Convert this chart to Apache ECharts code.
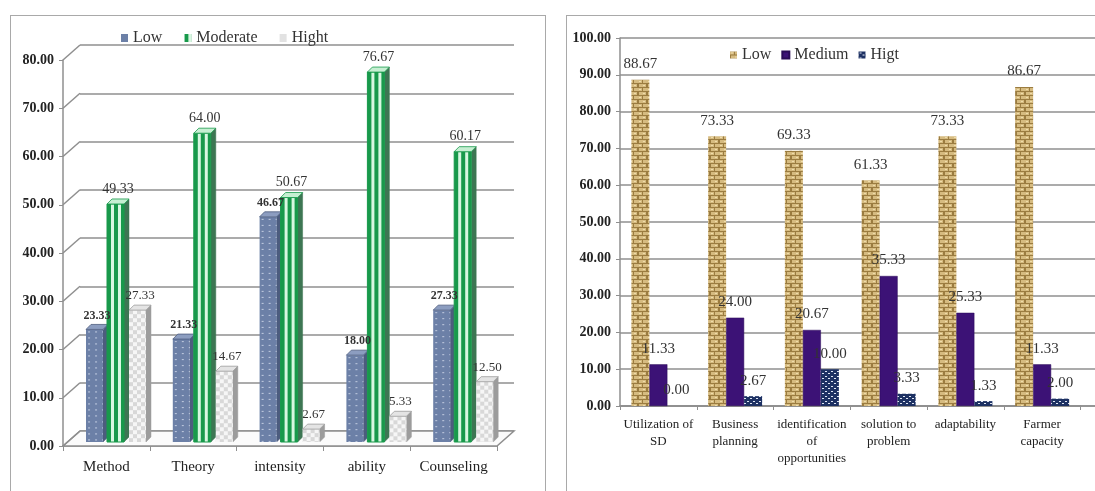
<!DOCTYPE html>
<html>
<head>
<meta charset="utf-8">
<script src="https://cdn.jsdelivr.net/npm/echarts@6/dist/echarts.min.js"></script>
<style>
  html, body { margin: 0; padding: 0; width: 1095px; height: 491px; overflow: hidden; background: #fff; }
  #left  { position: absolute; left: 0;     top: 0; width: 548px; height: 491px; }
  #right { position: absolute; left: 548px; top: 0; width: 547px; height: 491px; }
  .frame { position: absolute; border: 1.5px solid #a9a9a9; pointer-events: none; }
</style>
</head>
<body>
<div id="left"></div>
<div id="right"></div>
<div class="frame" style="left:10px;top:15px;width:534px;height:520px;"></div>
<div class="frame" style="left:566px;top:15px;width:600px;height:520px;"></div>
<script>
// ---- Skill levels (3D clustered columns) ----
const skillCategories = ['Method', 'Theory', 'intensity', 'ability', 'Counseling'];
const skillLow      = [23.33, 21.33, 46.67, 18.00, 27.33];
const skillModerate = [49.33, 64.00, 50.67, 76.67, 60.17];
const skillHight    = [27.33, 14.67, 2.67, 5.33, 12.50];
const skillTicks    = [0, 10, 20, 30, 40, 50, 60, 70, 80];

// ---- Capacity levels (flat clustered columns) ----
const capacityCategories = ['Utilization of\nSD', 'Business\nplanning', 'identification\nof\nopportunities',
                            'solution to\nproblem', 'adaptability', 'Farmer\ncapacity'];
const capacityLow    = [88.67, 73.33, 69.33, 61.33, 73.33, 86.67];
const capacityMedium = [11.33, 24.00, 20.67, 35.33, 25.33, 11.33];
const capacityHigt   = [0.00, 2.67, 10.00, 3.33, 1.33, 2.00];

const SERIF = '"Liberation Serif", "Times New Roman", serif';

function tile(w, h, draw) {
  const c = document.createElement('canvas');
  c.width = w; c.height = h;
  draw(c.getContext('2d'));
  return c;
}

// fills
const dotTile = tile(7, 6, g => {
  g.fillStyle = '#6c80a7'; g.fillRect(0, 0, 7, 6);
  g.fillStyle = '#c3cde2'; g.fillRect(2, 2, 2, 1);
});
const checkTile = tile(8, 8, g => {
  g.fillStyle = '#f6f6f6'; g.fillRect(0, 0, 8, 8);
  g.fillStyle = '#d8d8d8'; g.fillRect(0, 0, 4, 4); g.fillRect(4, 4, 4, 4);
});
const stripeTile = tile(7, 4, g => {
  g.fillStyle = '#d8f7e1'; g.fillRect(0, 0, 7, 4);
  g.fillStyle = '#18994b'; g.fillRect(0, 0, 4, 4);
});
const brickTile = tile(9, 8, g => {
  g.fillStyle = '#d6bb80'; g.fillRect(0, 0, 9, 8);
  g.fillStyle = '#9b7c40';
  g.fillRect(0, 3, 9, 1); g.fillRect(0, 7, 9, 1);
  g.fillRect(4, 0, 1, 3); g.fillRect(0, 4, 1, 3); g.fillRect(8, 4, 1, 3);
  g.fillStyle = '#efdcaa'; g.fillRect(1, 1, 2, 1); g.fillRect(5, 5, 2, 1);
});
const navyDotTile = tile(6, 5, g => {
  g.fillStyle = '#1d3163'; g.fillRect(0, 0, 6, 5);
  g.fillStyle = '#dfe6f4'; g.fillRect(1, 1, 2, 1); g.fillRect(4, 3, 2, 1);
});
const pat = (img, x, y) => ({ image: img, repeat: 'repeat', x: x || 0, y: y || 0 });

// ---------------- 3D column chart ----------------
const DEPTH_X = 17, DEPTH_Y = 15;     // wall depth
const FACE_W = 17, SIDE_X = 5, SIDE_Y = 5, LIFT = 4;

function prism(slot, kind, labelFont) {
  return function (params, api) {
    const idx = api.value(0), v = api.value(1);
    const base = api.coord([idx, 0]);
    const top = api.coord([idx, v]);
    const band = api.size([1, 0])[0];
    const x0 = base[0] - band / 2 + slot;
    const x1 = x0 + FACE_W;
    const yb = base[1] - LIFT, yt = top[1] - LIFT;
    const children = [];
    let sideFill, topFill, frontFill;
    if (kind === 'low') { frontFill = pat(dotTile, x0, yt); sideFill = '#4c5c7e'; topFill = '#8c9dc0'; }
    if (kind === 'mod') { frontFill = '#d8f7e1'; sideFill = '#3d7653'; topFill = '#c6efd2'; }
    if (kind === 'high') { frontFill = pat(checkTile, x0, yt); sideFill = '#9c9c9c'; topFill = '#e4e4e4'; }
    // side face
    children.push({ type: 'polygon', shape: { points: [[x1, yb], [x1 + SIDE_X, yb - SIDE_Y], [x1 + SIDE_X, yt - SIDE_Y], [x1, yt]] },
      style: { fill: sideFill, stroke: sideFill, lineWidth: 0.5 } });
    // front face
    children.push({ type: 'rect', shape: { x: x0, y: yt, width: FACE_W, height: yb - yt },
      style: { fill: frontFill, stroke: kind === 'mod' ? '#18994b' : null, lineWidth: 1 } });
    if (kind === 'mod') {
      [[0, 4], [7, 4], [14, 3]].forEach(s => {
        children.push({ type: 'rect', shape: { x: x0 + s[0], y: yt, width: s[1], height: yb - yt }, style: { fill: '#18994b' } });
      });
    }
    // top face
    children.push({ type: 'polygon', shape: { points: [[x0, yt], [x1, yt], [x1 + SIDE_X, yt - SIDE_Y], [x0 + SIDE_X, yt - SIDE_Y]] },
      style: { fill: topFill, stroke: kind === 'mod' ? '#18994b' : sideFill, lineWidth: 0.8 } });
    // value label
    children.push({ type: 'text', z2: 100, style: {
      text: v.toFixed(2), x: x0 + (FACE_W + SIDE_X) / 2, y: yt - SIDE_Y - 3,
      align: 'center', verticalAlign: 'bottom', fill: '#333', font: labelFont } });
    return { type: 'group', children };
  };
}

function wallLine(params, api) {
  const p = api.coord([0, api.value(1)]);
  const xs = p[0] - api.size([1, 0])[0] / 2;
  return { type: 'line', shape: { x1: xs, y1: p[1], x2: xs + DEPTH_X, y2: p[1] - DEPTH_Y },
    style: { stroke: '#8f8f8f', lineWidth: 1.5 } };
}

function floorPlane(params, api) {
  const p = api.coord([0, 0]);
  const band = api.size([1, 0])[0];
  const xs = p[0] - band / 2, xe = xs + band * skillCategories.length;
  return { type: 'polygon', shape: { points: [[xs, p[1]], [xe, p[1]], [xe + DEPTH_X, p[1] - DEPTH_Y], [xs + DEPTH_X, p[1] - DEPTH_Y]] },
    style: { fill: '#fbfbfb', stroke: '#8f8f8f', lineWidth: 1.5 } };
}

const leftChart = echarts.init(document.getElementById('left'), null, { renderer: 'canvas' });
leftChart.setOption({
  animation: false,
  legend: {
    left: 116, top: 25, itemWidth: 7, itemHeight: 8, itemGap: 22,
    icon: 'rect',
    data: ['Low', 'Moderate', 'Hight'],
    textStyle: { fontFamily: SERIF, fontSize: 16, color: '#333' }
  },
  grid: [
    { left: 63, right: 51, top: 60, bottom: 45 },                               // front plane
    { left: 63 + DEPTH_X, right: 51 - DEPTH_X, top: 60 - DEPTH_Y, bottom: 45 + DEPTH_Y } // back wall
  ],
  xAxis: [
    { gridIndex: 0, type: 'category', data: skillCategories,
      axisLine: { show: true, lineStyle: { color: '#8f8f8f', width: 1.5 } },
      axisTick: { show: true, length: 5, lineStyle: { color: '#8f8f8f' } },
      axisLabel: { fontFamily: SERIF, fontSize: 15, color: '#222', margin: 14, interval: 0 } },
    { gridIndex: 1, type: 'category', data: skillCategories, show: false }
  ],
  yAxis: [
    { gridIndex: 0, type: 'value', min: 0, max: 80, interval: 10,
      axisLine: { show: true, lineStyle: { color: '#8f8f8f', width: 1.5 } },
      axisTick: { show: true, length: 4, lineStyle: { color: '#8f8f8f' } },
      splitLine: { show: false },
      axisLabel: { fontFamily: SERIF, fontWeight: 'bold', fontSize: 14, color: '#222', margin: 9,
                   formatter: v => v.toFixed(2) } },
    { gridIndex: 1, type: 'value', min: 0, max: 80, interval: 10,
      axisLine: { show: false }, axisTick: { show: false }, axisLabel: { show: false },
      splitLine: { show: true, lineStyle: { color: '#8f8f8f', width: 1.5 } } }
  ],
  series: [
    { type: 'custom', name: 'floor', xAxisIndex: 0, yAxisIndex: 0, z: 1, silent: true,
      data: [[0, 0]], renderItem: floorPlane },
    { type: 'custom', name: 'wall', xAxisIndex: 0, yAxisIndex: 0, z: 1, silent: true,
      data: skillTicks.map(t => [0, t]), renderItem: wallLine },
    { type: 'custom', name: 'Low', z: 3, itemStyle: { color: '#6c80a7' },
      data: skillLow.map((v, i) => [i, v]), renderItem: prism(23, 'low', 'bold 12px ' + SERIF) },
    { type: 'custom', name: 'Moderate', z: 3, itemStyle: { color: pat(stripeTile) },
      data: skillModerate.map((v, i) => [i, v]), renderItem: prism(44, 'mod', '14px ' + SERIF) },
    { type: 'custom', name: 'Hight', z: 3, itemStyle: { color: '#e2e2e2' },
      data: skillHight.map((v, i) => [i, v]), renderItem: prism(66, 'high', '13px ' + SERIF) }
  ]
});

// ---------------- flat column chart ----------------
const rightChart = echarts.init(document.getElementById('right'), null, { renderer: 'canvas' });
const valueLabel = { show: true, position: 'top', distance: 8, fontFamily: SERIF, fontSize: 15, color: '#333',
                     formatter: p => p.value.toFixed(2) };
rightChart.setOption({
  animation: false,
  legend: {
    left: 177, top: 42, itemWidth: 7, itemHeight: 7, itemGap: 10, icon: 'rect',
    data: ['Low', 'Medium', 'Higt'],
    textStyle: { fontFamily: SERIF, fontSize: 16, color: '#333' }
  },
  grid: [
    { left: 72, right: 14.5, top: 38, bottom: 85 },
    { left: 72, right: -30, top: 38, bottom: 85 }
  ],
  xAxis: [
    { gridIndex: 0, type: 'category', data: capacityCategories,
      axisLine: { show: true, lineStyle: { color: '#8f8f8f', width: 1.5 } },
      axisTick: { show: true, length: 4, lineStyle: { color: '#8f8f8f' } },
      axisLabel: { fontFamily: SERIF, fontSize: 13, lineHeight: 17, color: '#222', margin: 10, interval: 0 } },
    { gridIndex: 1, type: 'value', min: 0, max: 1,
      axisLine: { show: true, lineStyle: { color: '#8f8f8f', width: 1.5 } },
      axisTick: { show: false }, axisLabel: { show: false }, splitLine: { show: false } }
  ],
  yAxis: [
    { gridIndex: 0, type: 'value', min: 0, max: 100, interval: 10,
      axisLine: { show: true, lineStyle: { color: '#8f8f8f', width: 1.5 } },
      axisTick: { show: true, length: 4, lineStyle: { color: '#8f8f8f' } },
      splitLine: { show: false },
      axisLabel: { fontFamily: SERIF, fontWeight: 'bold', fontSize: 14, color: '#222', margin: 9,
                   formatter: v => v.toFixed(2) } },
    { gridIndex: 1, type: 'value', min: 0, max: 100, interval: 10,
      axisLine: { show: false }, axisTick: { show: false }, axisLabel: { show: false },
      splitLine: { show: true, lineStyle: { color: '#8f8f8f', width: 1.5 } } }
  ],
  series: [
    { type: 'bar', name: 'Low', xAxisIndex: 0, yAxisIndex: 0, barWidth: 18, barGap: '0%',
      itemStyle: { color: pat(brickTile) }, label: valueLabel, data: capacityLow },
    { type: 'bar', name: 'Medium', xAxisIndex: 0, yAxisIndex: 0, barWidth: 18, barGap: '0%',
      itemStyle: { color: '#3c1276', borderColor: '#2a0b57', borderWidth: 0.5 }, label: valueLabel, data: capacityMedium },
    { type: 'bar', name: 'Higt', xAxisIndex: 0, yAxisIndex: 0, barWidth: 18, barGap: '0%',
      itemStyle: { color: pat(navyDotTile) }, label: valueLabel, data: capacityHigt }
  ]
});
</script>
</body>
</html>
